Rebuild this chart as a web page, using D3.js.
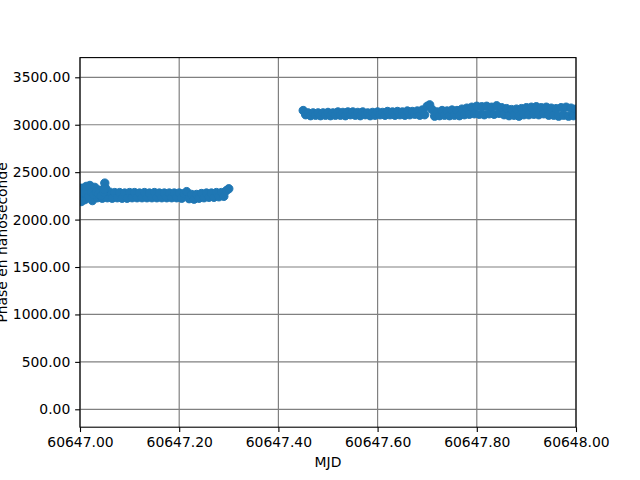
<!DOCTYPE html>
<html>
<head>
<meta charset="utf-8">
<script src="https://cdn.jsdelivr.net/npm/d3@7"></script>
<style>
  body { margin: 0; background: #fff; }
  svg { display: block; font-family: "DejaVu Sans", sans-serif; }
</style>
</head>
<body>
<svg id="chart" width="640" height="480"></svg>
<script>
// ---- data ----
const mjd1 = [
  60647.000, 60647.005, 60647.010, 60647.015, 60647.020, 60647.025, 60647.030, 60647.035, 60647.040, 60647.045,
  60647.050, 60647.055, 60647.060, 60647.065, 60647.070, 60647.075, 60647.080, 60647.085, 60647.090, 60647.095,
  60647.100, 60647.105, 60647.110, 60647.115, 60647.120, 60647.125, 60647.130, 60647.135, 60647.140, 60647.145,
  60647.150, 60647.155, 60647.160, 60647.165, 60647.170, 60647.175, 60647.180, 60647.185, 60647.190, 60647.195,
  60647.200, 60647.205, 60647.210, 60647.215, 60647.220, 60647.225, 60647.230, 60647.235, 60647.240, 60647.245,
  60647.250, 60647.255, 60647.260, 60647.265, 60647.270, 60647.275, 60647.280, 60647.285, 60647.290, 60647.295,
  60647.300,
  60647.001, 60647.0025, 60647.004, 60647.0075, 60647.0125, 60647.0175, 60647.0225, 60647.0275, 60647.0325, 60647.0375,
  60647.0425, 60647.0475, 60647.0515, 60647.0485
];
const phase1 = [
  2250, 2330, 2210, 2300, 2360, 2200, 2340, 2230, 2310, 2225,
  2385, 2230, 2290, 2225, 2285, 2230, 2285, 2225, 2280, 2225,
  2285, 2230, 2285, 2230, 2280, 2230, 2285, 2230, 2280, 2230,
  2285, 2230, 2280, 2230, 2280, 2230, 2280, 2230, 2280, 2230,
  2280, 2225, 2275, 2295, 2220, 2265, 2215, 2265, 2225, 2275,
  2230, 2280, 2235, 2280, 2235, 2285, 2240, 2285, 2245, 2305,
  2325,
  2330, 2190, 2200, 2280, 2350, 2240, 2290, 2260, 2290, 2270,
  2250, 2290, 2330, 2320
];
const mjd2 = [
  60647.450, 60647.455, 60647.460, 60647.465, 60647.470, 60647.475, 60647.480, 60647.485, 60647.490, 60647.495,
  60647.500, 60647.505, 60647.510, 60647.515, 60647.520, 60647.525, 60647.530, 60647.535, 60647.540, 60647.545,
  60647.550, 60647.555, 60647.560, 60647.565, 60647.570, 60647.575, 60647.580, 60647.585, 60647.590, 60647.595,
  60647.600, 60647.605, 60647.610, 60647.615, 60647.620, 60647.625, 60647.630, 60647.635, 60647.640, 60647.645,
  60647.650, 60647.655, 60647.660, 60647.665, 60647.670, 60647.675, 60647.680, 60647.685, 60647.690, 60647.695,
  60647.700, 60647.705, 60647.710, 60647.715, 60647.720, 60647.725, 60647.730, 60647.735, 60647.740, 60647.745,
  60647.750, 60647.755, 60647.760, 60647.765, 60647.770, 60647.775, 60647.780, 60647.785, 60647.790, 60647.795,
  60647.800, 60647.805, 60647.810, 60647.815, 60647.820, 60647.825, 60647.830, 60647.835, 60647.840, 60647.845,
  60647.850, 60647.855, 60647.860, 60647.865, 60647.870, 60647.875, 60647.880, 60647.885, 60647.890, 60647.895,
  60647.900, 60647.905, 60647.910, 60647.915, 60647.920, 60647.925, 60647.930, 60647.935, 60647.940, 60647.945,
  60647.950, 60647.955, 60647.960, 60647.965, 60647.970, 60647.975, 60647.980, 60647.985, 60647.990, 60647.995,
  60648.000
];
const phase2 = [
  3150, 3105, 3125, 3095, 3125, 3100, 3125, 3095, 3125, 3100,
  3130, 3095, 3125, 3100, 3135, 3100, 3130, 3095, 3135, 3105,
  3135, 3100, 3130, 3095, 3135, 3105, 3125, 3095, 3130, 3100,
  3135, 3105, 3130, 3100, 3140, 3105, 3135, 3100, 3140, 3105,
  3135, 3100, 3145, 3105, 3140, 3110, 3145, 3100, 3155, 3105,
  3195, 3210, 3160, 3090, 3135, 3095, 3150, 3100, 3145, 3095,
  3155, 3100, 3150, 3095, 3165, 3105, 3175, 3110, 3185, 3115,
  3195, 3110, 3190, 3105, 3195, 3115, 3185, 3110, 3200, 3120,
  3180, 3105, 3170, 3095, 3160, 3100, 3165, 3090, 3170, 3105,
  3180, 3105, 3185, 3110, 3190, 3105, 3180, 3115, 3185, 3100,
  3175, 3100, 3170, 3090, 3180, 3100, 3185, 3090, 3175, 3095,
  3165
];
const xTicks = [60647.0, 60647.2, 60647.4, 60647.6, 60647.8, 60648.0];
const yTicks = [0, 500, 1000, 1500, 2000, 2500, 3000, 3500];
const xLabel = "MJD";
const yLabel = "Phase en nanoseconde";

// ---- layout ----
const W = 640, H = 480;
const L = 80, R = 576, T = 57.6, B = 427.2;
const fs = 13.9;

const svg = d3.select("#chart");
const x = d3.scaleLinear().domain([60647.0, 60648.0]).range([L, R]);
const y = d3.scaleLinear().domain([-188.7, 3707.7]).range([B, T]);

// grid
const grid = svg.append("g");
grid.selectAll("line.vx").data(xTicks).enter().append("line")
  .attr("x1", d => x(d)).attr("x2", d => x(d)).attr("y1", T).attr("y2", B)
  .attr("stroke", "#808080").attr("stroke-width", 1.2);
grid.selectAll("line.hy").data(yTicks).enter().append("line")
  .attr("y1", d => y(d)).attr("y2", d => y(d)).attr("x1", L).attr("x2", R)
  .attr("stroke", "#808080").attr("stroke-width", 1.2);

// clip
svg.append("defs").append("clipPath").attr("id", "clip")
  .append("rect").attr("x", L).attr("y", T).attr("width", R - L).attr("height", B - T);

const pts = mjd1.map((m, i) => ({m, p: phase1[i]}))
  .concat(mjd2.map((m, i) => ({m, p: phase2[i]})));
svg.append("g").attr("clip-path", "url(#clip)")
  .selectAll("circle").data(pts).enter().append("circle")
  .attr("cx", d => x(d.m)).attr("cy", d => y(d.p)).attr("r", 4.17)
  .attr("fill", "#1f77b4").attr("stroke", "#1f77b4").attr("stroke-width", 1);

// axes
const xAxis = d3.axisBottom(x).tickValues(xTicks).tickFormat(d3.format(".2f"))
  .tickSizeInner(4.86).tickSizeOuter(0).tickPadding(4.86);
const yAxis = d3.axisLeft(y).tickValues(yTicks).tickFormat(d3.format(".2f"))
  .tickSizeInner(4.86).tickSizeOuter(0).tickPadding(4.86);

const gx = svg.append("g").attr("transform", `translate(0,${B})`).call(xAxis);
const gy = svg.append("g").attr("transform", `translate(${L},0)`).call(yAxis);
[gx, gy].forEach(g => {
  g.select(".domain").remove();
  g.selectAll(".tick line").attr("stroke", "#000").attr("stroke-width", 1.1);
  g.selectAll(".tick text").attr("fill", "#000")
    .style("font-size", fs + "px").style("font-family", "DejaVu Sans, sans-serif");
});

// frame
svg.append("rect").attr("x", L).attr("y", T).attr("width", R - L).attr("height", B - T)
  .attr("fill", "none").attr("stroke", "#000").attr("stroke-width", 1.1);

// labels
svg.append("text").attr("x", (L + R) / 2).attr("y", 467)
  .attr("text-anchor", "middle").style("font-size", fs + "px").text(xLabel);
svg.append("text").attr("transform", `translate(7,${(T + B) / 2}) rotate(-90)`)
  .attr("text-anchor", "middle").style("font-size", fs + "px").text(yLabel);
</script>
</body>
</html>
